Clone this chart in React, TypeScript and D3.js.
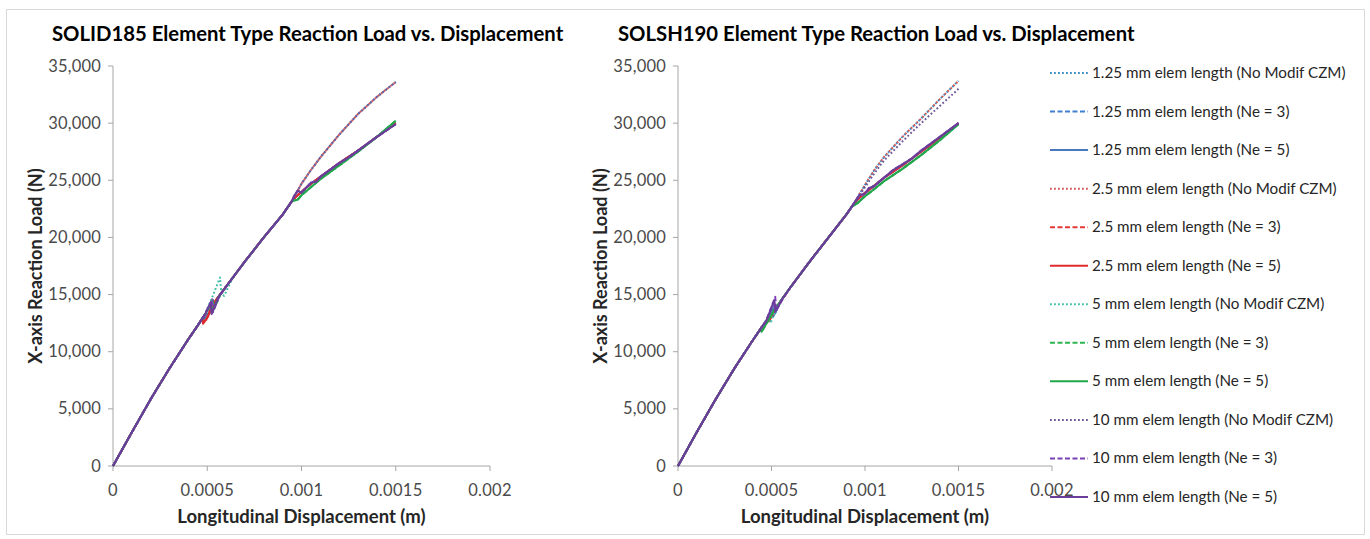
import React from "react";
import * as d3 from "d3";

// ---------- tick labels ----------
const xTicks = [0, 0.0005, 0.001, 0.0015, 0.002];
const xTickLabels = ["0", "0.0005", "0.001", "0.0015", "0.002"];
const yTicks = [0, 5000, 10000, 15000, 20000, 25000, 30000, 35000];

// ---------- series names ----------
const seriesNames = [
  "1.25 mm elem length (No Modif CZM)",
  "1.25 mm elem length (Ne = 3)",
  "1.25 mm elem length (Ne = 5)",
  "2.5 mm elem length (No Modif CZM)",
  "2.5 mm elem length (Ne = 3)",
  "2.5 mm elem length (Ne = 5)",
  "5 mm elem length (No Modif CZM)",
  "5 mm elem length (Ne = 3)",
  "5 mm elem length (Ne = 5)",
  "10 mm elem length (No Modif CZM)",
  "10 mm elem length (Ne = 3)",
  "10 mm elem length (Ne = 5)",
];
const seriesColors = [
  "#3f8fc4", "#3f7fd0", "#4a78c0",
  "#d45656", "#e53935", "#df2a2e",
  "#3fbfa6", "#2eb451", "#22a64a",
  "#6e5a9a", "#7b3fb8", "#6a3d9a",
];
const seriesStyles = ["dot", "dash", "solid", "dot", "dash", "solid", "dot", "dash", "solid", "dot", "dash", "solid"];

// ---------- SOLID185 data (displacement m, load N) ----------
const solidMainD = [0, 0.0001, 0.0002, 0.0003, 0.0004, 0.00045, 0.0005, 0.00055, 0.0006, 0.00065, 0.0007, 0.0008, 0.0009, 0.00095];
const solidMainL = [0, 2950, 5850, 8550, 11100, 12300, 13500, 14600, 15700, 16800, 17900, 20000, 22000, 23200];

const solidUpperD = [0.001, 0.00105, 0.0011, 0.0012, 0.0013, 0.0014, 0.0015];
const solidUpperL = [24700, 25900, 27000, 29000, 30800, 32300, 33600];
const solidLowerD = [0.00098, 0.001, 0.00105, 0.0011, 0.0012, 0.0013, 0.0014, 0.0015];
const solidLowerL = [23700, 24000, 24700, 25300, 26500, 27600, 28800, 30000];
const solidGreenD = [0.00098, 0.001, 0.0011, 0.0012, 0.0013, 0.0014, 0.0015];
const solidGreenL = [23300, 23700, 25100, 26300, 27500, 28800, 30200];
const solidPurpleD = [0.00096, 0.00098, 0.001, 0.00105, 0.00108, 0.0011, 0.0012, 0.00125, 0.0013, 0.0014, 0.0015];
const solidPurpleL = [23600, 24100, 23900, 24800, 24900, 25300, 26500, 27000, 27600, 28800, 29900];

const solidCrack = [
  [[0.00049, 13300], [0.000495, 13000], [0.00053, 14000]],
  [[0.00048, 13050], [0.000485, 12800], [0.00052, 13800]],
  [[0.00048, 13050], [0.000487, 12750], [0.00052, 13750]],
  [[0.00049, 13300], [0.000495, 12800], [0.000525, 13750]],
  [[0.000475, 12950], [0.00048, 12500], [0.000505, 13100], [0.00052, 13900]],
  [[0.000472, 12900], [0.000478, 12450], [0.000503, 13050], [0.000522, 13950]],
  [[0.00048, 13050], [0.00052, 14500], [0.000568, 16500], [0.000575, 15000], [0.00059, 14900], [0.00063, 16300]],
  [[0.00049, 13300], [0.00053, 14600], [0.000535, 13700], [0.00057, 15000]],
  [[0.00049, 13300], [0.00052, 14200], [0.000525, 13500], [0.00056, 14800]],
  [[0.00049, 13300], [0.00053, 14700], [0.000535, 13800], [0.00057, 15000]],
  [[0.000485, 13200], [0.000525, 14550], [0.00053, 13450], [0.000565, 14900]],
  [[0.000488, 13250], [0.000518, 14300], [0.000523, 13300], [0.00056, 14800]],
];

// ---------- SOLSH190 data ----------
const shellMainD = [0, 0.0001, 0.0002, 0.0003, 0.0004, 0.00045, 0.0005, 0.00055, 0.0006, 0.0007, 0.0008, 0.0009, 0.00093];
const shellMainL = [0, 2950, 5800, 8500, 11000, 12200, 13300, 14450, 15600, 17800, 19900, 22000, 22700];

const shellUpperD = [0.00096, 0.001, 0.00105, 0.0011, 0.0012, 0.0013, 0.0014, 0.0015];
const shellUpperAL = [23500, 24600, 25900, 27000, 28800, 30400, 32100, 33700];
const shellUpperBL = [23400, 24400, 25600, 26700, 28400, 30000, 31500, 33000];
const shellLowerD = [0.00096, 0.001, 0.00104, 0.0011, 0.0012, 0.0013, 0.0014, 0.0015];
const shellLowerL = [23300, 23900, 24400, 25200, 26300, 27500, 28700, 30000];
const shellGreenL = [23000, 23600, 24100, 24900, 26000, 27200, 28500, 29900];
const shellPurpleD = [0.00095, 0.00097, 0.001, 0.00102, 0.00105, 0.0011, 0.00115, 0.0012, 0.00125, 0.0013, 0.0014, 0.0015];
const shellPurpleL = [23200, 23700, 23800, 24300, 24500, 25200, 25900, 26400, 26900, 27600, 28800, 30000];

const shellCrack = [
  [[0.00049, 13080], [0.00051, 13800], [0.000515, 13300], [0.00055, 14450]],
  [[0.00048, 12860], [0.00051, 13900], [0.000515, 13200], [0.00055, 14450]],
  [[0.00048, 12860], [0.000505, 13700], [0.00051, 13100], [0.00055, 14450]],
  [[0.00049, 13080], [0.000495, 12900], [0.00053, 13950]],
  [[0.00048, 12860], [0.000486, 12650], [0.000522, 13800]],
  [[0.000485, 12970], [0.00049, 12750], [0.000525, 13850]],
  [[0.00045, 12200], [0.00049, 13300], [0.000495, 12500], [0.00053, 14000]],
  [[0.000445, 12050], [0.00045, 11800], [0.000515, 13650]],
  [[0.00044, 11950], [0.000447, 11750], [0.000515, 13650]],
  [[0.00048, 12860], [0.000515, 14300], [0.00052, 13600], [0.00055, 14450]],
  [[0.00047, 12640], [0.00052, 14800], [0.000525, 13600], [0.00056, 14600]],
  [[0.00047, 12640], [0.000515, 14500], [0.00052, 13500], [0.00056, 14680]],
];

type Pt = [number, number];

function buildSeries(mainD: number[], mainL: number[], crack: number[][], tailD: number[], tailL: number[]): Pt[] {
  const pts: Pt[] = [];
  const c0 = crack[0][0];
  const c1 = crack[crack.length - 1][0];
  mainD.forEach((d, i) => { if (d < c0) pts.push([d, mainL[i]]); });
  crack.forEach((p) => pts.push([p[0], p[1]]));
  mainD.forEach((d, i) => { if (d > c1) pts.push([d, mainL[i]]); });
  tailD.forEach((d, i) => pts.push([d, tailL[i]]));
  return pts;
}

const solidTails: [number[], number[]][] = [
  [solidUpperD, solidUpperL], [solidLowerD, solidLowerL], [solidLowerD, solidLowerL],
  [solidUpperD, solidUpperL], [solidLowerD, solidLowerL], [solidLowerD, solidLowerL],
  [solidGreenD, solidGreenL], [solidGreenD, solidGreenL], [solidGreenD, solidGreenL],
  [solidUpperD, solidUpperL], [solidPurpleD, solidPurpleL], [solidPurpleD, solidPurpleL],
];
const shellTails: [number[], number[]][] = [
  [shellUpperD, shellUpperAL], [shellLowerD, shellLowerL], [shellLowerD, shellLowerL],
  [shellUpperD, shellUpperAL], [shellLowerD, shellLowerL], [shellLowerD, shellLowerL],
  [shellLowerD, shellGreenL], [shellLowerD, shellGreenL], [shellLowerD, shellGreenL],
  [shellUpperD, shellUpperBL], [shellPurpleD, shellPurpleL], [shellPurpleD, shellPurpleL],
];

const solidSeries = seriesNames.map((_, i) => buildSeries(solidMainD, solidMainL, solidCrack[i], solidTails[i][0], solidTails[i][1]));
const shellSeries = seriesNames.map((_, i) => buildSeries(shellMainD, shellMainL, shellCrack[i], shellTails[i][0], shellTails[i][1]));

const FONT = "Lato, 'Open Sans', sans-serif";

function dashFor(style: string): string | undefined {
  if (style === "dot") return "1.8 2.2";
  if (style === "dash") return "5 2.5";
  return undefined;
}
// phase offsets so overlapping dotted series interleave
const dotOffsets = [0, 0, 0, 1.35, 0, 0, 0, 0, 0, 2.7, 0, 0];

type PanelProps = {
  title: string;
  titleX: number;
  x0: number;
  x1: number;
  yTitleX: number;
  series: Pt[][];
};

function Panel({ title, titleX, x0, x1, yTitleX, series }: PanelProps) {
  const yTop = 66;
  const yBottom = 466;
  const x = d3.scaleLinear().domain([0, 0.002]).range([x0, x1]);
  const y = d3.scaleLinear().domain([0, 35000]).range([yBottom, yTop]);
  const line = d3.line<Pt>().x((d) => x(d[0])).y((d) => y(d[1]));
  const fmt = d3.format(",");
  return (
    <g>
      <text x={titleX} y={41} fontFamily={FONT} fontWeight={700} fontSize={20.3} fill="#000">{title}</text>
      <line x1={x0} x2={x0} y1={yTop} y2={yBottom} stroke="#a6a6a6" strokeWidth={1} />
      <line x1={x0} x2={x1} y1={yBottom} y2={yBottom} stroke="#a6a6a6" strokeWidth={1} />
      {yTicks.map((t) => (
        <g key={"y" + t}>
          <line x1={x0 - 5} x2={x0} y1={y(t)} y2={y(t)} stroke="#a6a6a6" />
          <text x={x0 - 12} y={y(t) + 5.5} textAnchor="end" fontFamily={FONT} fontSize={16.5} letterSpacing={0.2} fill="#4a4a4a">{fmt(t)}</text>
        </g>
      ))}
      {xTicks.map((t, i) => (
        <g key={"x" + t}>
          <line x1={x(t)} x2={x(t)} y1={yBottom} y2={yBottom + 5} stroke="#a6a6a6" />
          <text x={x(t)} y={495.5} textAnchor="middle" fontFamily={FONT} fontSize={16.5} letterSpacing={0.3} fill="#4a4a4a">{xTickLabels[i]}</text>
        </g>
      ))}
      <text x={(x0 + x1) / 2} y={523} textAnchor="middle" fontFamily={FONT} fontWeight={700} fontSize={18.5} fill="#262626">Longitudinal Displacement (m)</text>
      <text transform={`translate(${yTitleX},${(yTop + yBottom) / 2}) rotate(-90)`} textAnchor="middle" dy={6.5} fontFamily={FONT} fontWeight={700} fontSize={18} fill="#262626">X-axis Reaction Load (N)</text>
      {series.map((s, i) => (
        <path key={i} d={line(s) || ""} fill="none" stroke={seriesColors[i]} strokeWidth={2} strokeDasharray={dashFor(seriesStyles[i])} strokeDashoffset={dotOffsets[i]} strokeLinejoin="round" />
      ))}
    </g>
  );
}

export default function App() {
  const legendY = d3.scaleLinear().domain([0, 11]).range([73, 497]);
  return (
    <svg width={1370} height={539} style={{ position: "absolute", left: 0, top: 0, display: "block", background: "#fff" }}>
      <rect x={6.5} y={9.5} width={1358} height={525} fill="#fff" stroke="#d9d9d9" strokeWidth={1} />
      <Panel title="SOLID185 Element Type Reaction Load vs. Displacement" titleX={52} x0={113} x1={490} yTitleX={35} series={solidSeries} />
      <Panel title="SOLSH190 Element Type Reaction Load vs. Displacement" titleX={618} x0={678} x1={1052} yTitleX={600} series={shellSeries} />
      {seriesNames.map((n, i) => (
        <g key={n}>
          <line x1={1050} x2={1088} y1={legendY(i)} y2={legendY(i)} stroke={seriesColors[i]} strokeWidth={2} strokeDasharray={dashFor(seriesStyles[i])} />
          <text x={1092} y={legendY(i) + 5} fontFamily={FONT} fontSize={15.2} fill="#262626">{n}</text>
        </g>
      ))}
    </svg>
  );
}
